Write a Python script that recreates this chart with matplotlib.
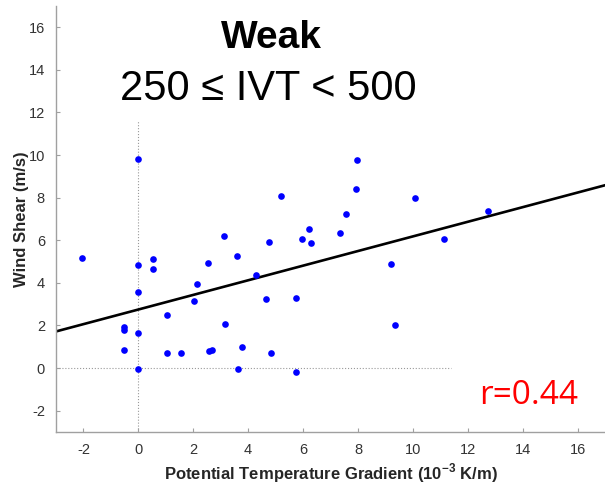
import numpy as np
import matplotlib.pyplot as plt

plt.rcParams['font.family'] = ['Liberation Sans', 'DejaVu Sans']
plt.rcParams['axes.unicode_minus'] = False

# Points (potential temperature gradient, wind shear)
grad = [-2.07, 0.0, 0.0, 0.0, 0.0, 0.0, -0.53, -0.53, -0.53, 0.52, 0.53,
        1.03, 1.03, 1.57, 2.03, 2.15, 2.55, 2.57, 2.69, 3.12, 3.15, 3.58,
        3.64, 3.76, 4.27, 4.66, 4.77, 4.83, 5.20, 5.76, 5.76, 5.97, 6.20,
        6.28, 7.34, 7.55, 7.92, 7.97, 9.20, 9.36, 10.07, 11.13, 12.73]
shear = [5.19, 9.81, 4.83, 3.59, 1.63, -0.03, 1.91, 1.78, 0.86, 5.14, 4.64,
         2.50, 0.69, 0.70, 3.16, 3.94, 4.91, 0.78, 0.83, 6.19, 2.06, 5.25,
         -0.05, 1.00, 4.36, 3.25, 5.94, 0.69, 8.09, 3.30, -0.19, 6.05, 6.53,
         5.88, 6.36, 7.23, 8.39, 9.77, 4.89, 2.02, 7.98, 6.08, 7.38]

# Least-squares line as drawn in the original
fit_slope = 0.343
fit_intercept = 2.75
r_value = 0.44

xlim = (-3, 17)
ylim = (-3, 17)

fig = plt.figure(figsize=(6.05, 4.86), dpi=100)
ax = fig.add_axes([0.0926, 0.111, 0.9074, 0.877])

# dotted zero lines
ax.plot([0, 0], [ylim[0], 11.6], color='#999999', linestyle=':', linewidth=0.8, zorder=1)
ax.plot([xlim[0], 11.4], [0, 0], color='#999999', linestyle=':', linewidth=0.8, zorder=1)

# regression line
fit_x = np.array(xlim)
ax.plot(fit_x, fit_intercept + fit_slope * fit_x, color='black', linewidth=1.9, zorder=2)

# data points
ax.plot(grad, shear, 'o', color='blue', markersize=4.8, markeredgewidth=0, zorder=3)

ax.set_xlim(xlim)
ax.set_ylim(ylim)
ax.set_xticks(np.arange(-2, 17, 2))
ax.set_yticks(np.arange(-2, 17, 2))

ax.spines['top'].set_visible(False)
ax.spines['right'].set_visible(False)
for side in ['left', 'bottom']:
    ax.spines[side].set_color('#a0a0a0')
    ax.spines[side].set_linewidth(1.0)
ax.tick_params(direction='in', length=3, width=0.8, color='#a0a0a0',
               labelcolor='#333333', labelsize=10.5, pad=8)

ax.set_xlabel(r'Potential Temperature Gradient (10$^{\mathregular{-3}}$ K/m)',
              fontsize=12, fontweight='bold', color='#262626', labelpad=3)
ax.set_ylabel('Wind Shear (m/s)', fontsize=12, fontweight='bold', color='#262626')
ax.yaxis.set_label_coords(-0.05, 0.5)

# titles inside the axes
ax.text(4.85, 15.0, 'Weak', fontsize=28, fontweight='bold', ha='center', va='baseline')
ax.text(4.75, 12.6, '250 \u2264 IVT < 500', fontsize=30, ha='center', va='baseline')

ax.text(16.03, -1.69, 'r=%.2f' % r_value, fontsize=24, color='red',
        family=['Open Sans', 'DejaVu Sans'], ha='right', va='baseline')

fig.savefig('out.png', dpi=100)
